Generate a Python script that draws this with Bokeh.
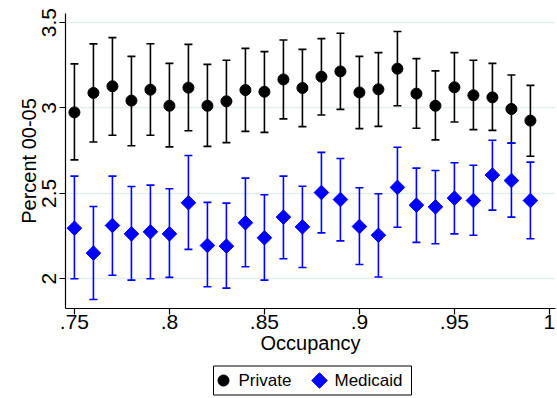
import numpy as np
from bokeh.plotting import figure
from bokeh.layouts import column
from bokeh.models import ColumnDataSource, Whisker, TeeHead, FixedTicker, Range1d
from bokeh.core.properties import value
from bokeh.embed import file_html
from bokeh.resources import INLINE

# Occupancy bins
occupancy = [0.75, 0.76, 0.77, 0.78, 0.79, 0.80, 0.81, 0.82, 0.83, 0.84, 0.85, 0.86, 0.87,
             0.88, 0.89, 0.90, 0.91, 0.92, 0.93, 0.94, 0.95, 0.96, 0.97, 0.98, 0.99]

# Private: point estimate with confidence interval
private_mean = [2.974, 3.088, 3.127, 3.043, 3.107, 3.013, 3.119, 3.013, 3.039, 3.105, 3.095, 3.167, 3.117,
                3.183, 3.214, 3.091, 3.109, 3.230, 3.084, 3.013, 3.121, 3.074, 3.062, 2.994, 2.926]
private_hi = [3.258, 3.375, 3.412, 3.302, 3.376, 3.261, 3.372, 3.255, 3.279, 3.349, 3.330, 3.398, 3.343,
              3.406, 3.437, 3.302, 3.324, 3.448, 3.289, 3.217, 3.324, 3.279, 3.261, 3.193, 3.132]
private_lo = [2.696, 2.801, 2.840, 2.779, 2.840, 2.772, 2.867, 2.775, 2.797, 2.863, 2.857, 2.936, 2.891,
              2.959, 2.992, 2.879, 2.892, 3.013, 2.881, 2.813, 2.918, 2.873, 2.869, 2.793, 2.717]

# Medicaid: point estimate with confidence interval
medicaid_mean = [2.296, 2.150, 2.312, 2.263, 2.275, 2.263, 2.445, 2.195, 2.191, 2.328, 2.240, 2.361, 2.304,
                 2.505, 2.464, 2.306, 2.255, 2.535, 2.431, 2.421, 2.472, 2.458, 2.607, 2.575, 2.458]
medicaid_hi = [2.601, 2.423, 2.601, 2.540, 2.548, 2.527, 2.722, 2.447, 2.443, 2.589, 2.492, 2.601, 2.542,
               2.740, 2.704, 2.533, 2.498, 2.770, 2.648, 2.634, 2.679, 2.665, 2.811, 2.794, 2.683]
medicaid_lo = [2.000, 1.879, 2.021, 1.992, 2.000, 2.008, 2.172, 1.953, 1.945, 2.070, 1.992, 2.117, 2.066,
               2.269, 2.222, 2.084, 2.010, 2.302, 2.213, 2.205, 2.263, 2.255, 2.402, 2.361, 2.234]

x_ticks = [0.75, 0.80, 0.85, 0.90, 0.95, 1.0]
x_tick_labels = [".75", ".8", ".85", ".9", ".95", "1"]
y_ticks = [2.0, 2.5, 3.0, 3.5]
y_tick_labels = ["2", "2.5", "3", "3.5"]

series_names = ["Private", "Medicaid"]

FONT = "Liberation Sans"
BLUE = "#0000FF"
W = 557
FRAME_LEFT, FRAME_RIGHT = 65, 555   # plot frame edges in page pixels

p = figure(width=W, height=362, output_backend="svg", toolbar_location=None,
           x_range=Range1d(0.7453, 1.0032), y_range=Range1d(1.826, 3.553),
           min_border_left=FRAME_LEFT, min_border_right=W - FRAME_RIGHT,
           min_border_top=13, min_border_bottom=54,
           background_fill_color="white", border_fill_color="white")
p.outline_line_color = None

private_src = ColumnDataSource(dict(x=occupancy, y=private_mean, lo=private_lo, hi=private_hi))
medicaid_src = ColumnDataSource(dict(x=occupancy, y=medicaid_mean, lo=medicaid_lo, hi=medicaid_hi))

# confidence interval whiskers
for src, color in ((private_src, "black"), (medicaid_src, BLUE)):
    p.add_layout(Whisker(base="x", lower="lo", upper="hi", source=src,
                         line_color=color, line_width=1.6,
                         upper_head=TeeHead(size=8, line_color=color, line_width=1.6),
                         lower_head=TeeHead(size=8, line_color=color, line_width=1.6)))

p.scatter("x", "y", source=private_src, marker="circle", size=11,
          fill_color="black", line_color="black")
p.scatter("x", "y", source=medicaid_src, marker="square", size=10.3, angle=np.pi / 4,
          fill_color=BLUE, line_color=BLUE)

# axes
p.xaxis.ticker = FixedTicker(ticks=x_ticks)
p.xaxis.major_label_overrides = dict(zip(x_ticks, x_tick_labels))
p.yaxis.ticker = FixedTicker(ticks=y_ticks)
p.yaxis.major_label_overrides = dict(zip(y_ticks, y_tick_labels))
p.yaxis.major_label_orientation = "vertical"
p.xaxis.axis_label = "Occupancy"
p.yaxis.axis_label = "Percent 00-05"
for ax in (p.xaxis, p.yaxis):
    ax.axis_line_color = "black"
    ax.axis_line_width = 1.2
    ax.major_tick_line_color = "black"
    ax.major_tick_line_width = 1.2
    ax.major_tick_out = 6
    ax.major_tick_in = 0
    ax.minor_tick_line_color = None
    ax.major_label_text_font = FONT
    ax.major_label_text_font_size = "21px"
    ax.major_label_text_color = "black"
    ax.axis_label_text_font = FONT
    ax.axis_label_text_font_size = "20px"
    ax.axis_label_text_font_style = "normal"
    ax.axis_label_text_color = "black"
p.xaxis.major_label_standoff = 0
p.xaxis.axis_label_standoff = 0
p.yaxis.major_label_standoff = 3
p.yaxis.axis_label_standoff = 0

p.xgrid.grid_line_color = None
p.ygrid.ticker = FixedTicker(ticks=y_ticks)
p.ygrid.grid_line_color = "#E6EDF0"
p.ygrid.grid_line_width = 1.5

# legend strip below the chart; its frame lines up with the chart frame,
# so the x range is expressed in page pixels
LH = 36
leg = figure(width=W, height=LH, output_backend="svg", toolbar_location=None,
             x_range=Range1d(FRAME_LEFT, FRAME_RIGHT), y_range=Range1d(0, LH),
             x_axis_location=None, y_axis_location=None,
             min_border=0, min_border_left=FRAME_LEFT, min_border_right=W - FRAME_RIGHT,
             min_border_top=0, min_border_bottom=0,
             background_fill_color="white", border_fill_color="white")
leg.grid.visible = False
leg.outline_line_color = None
leg.quad(left=[213], right=[411], bottom=[3.5], top=[32.5],
         fill_color="white", line_color="black", line_width=1)
leg.scatter([223], [18], marker="circle", size=11, fill_color="black", line_color="black")
leg.scatter([319], [18], marker="square", size=11, angle=np.pi / 4,
            fill_color=BLUE, line_color=BLUE)
leg.text([238, 334], [18, 18], text=series_names, text_font=value(FONT),
         text_font_size="17px", text_baseline="middle", text_align="left", text_color="black")

layout = column(p, leg, spacing=0)

open("out.html", "w").write(file_html(layout, INLINE))
